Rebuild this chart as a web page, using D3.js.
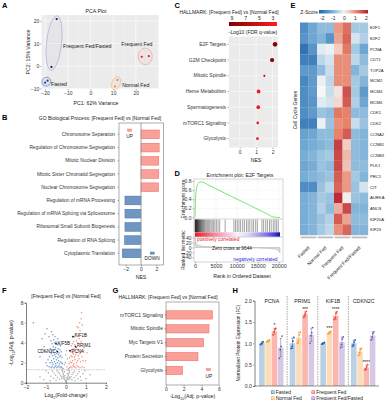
<!DOCTYPE html>
<html>
<head>
<meta charset="utf-8">
<script src="https://cdn.jsdelivr.net/npm/d3@7"></script>
<style>
body { margin: 0; background: #fff; }
svg { display: block; font-family: "Liberation Sans", Arial, sans-serif; }
</style>
</head>
<body>
<svg id="fig" width="386" height="400"></svg>
<script>
// ---------- A: PCA ----------
const pcaGroup = ["Fasted", "Fasted", "Normal Fed", "Normal Fed", "Frequent Fed", "Frequent Fed", "Frequent Fed/Fasted", "Frequent Fed/Fasted"];
const pcaPC1 = [-20.0, -18.9, 11.9, 10.8, 22.6, 25.7, -14.9, -17.2];
const pcaPC2 = [-7.4, -6.5, -6.2, -9.1, 4.1, 4.4, 20.8, -0.4];

// ---------- B: GO ----------
const goTerms = ["Chromosome Separation", "Regulation of Chromosome Segregation", "Mitotic Nuclear Division",
  "Mitotic Sister Chromatid Segregation", "Nuclear Chromosome Segregation", "Regulation of mRNA Processing",
  "Regulation of mRNA Splicing via Spliceosome", "Ribosomal Small Subunit Biogenesis", "Regulation of RNA Splicing",
  "Cytoplasmic Translation"];
const goNES = [2.4, 2.38, 2.33, 2.33, 2.3, -2.1, -2.1, -2.1, -2.15, -2.45];

// ---------- C: Hallmark dot plot ----------
const hallSets = ["E2F Targets", "G2M Checkpoint", "Mitotic Spindle", "Heme Metabolism", "Spermatogenesis", "mTORC1 Signaling", "Glycolysis"];
const hallNES = [2.15, 1.97, 1.5, 1.15, 1.13, 1.1, 1.08];
const hallFDR = [9.0, 8.7, 6.6, 3.4, 3.3, 3.2, 3.2];
const hallGenes = [62, 54, 14, 42, 40, 22, 24];
const fdrTicks = [9, 7, 5, 3];

// ---------- D: enrichment plot ----------
const esRank = [0, 100, 300, 600, 1000, 1600, 3000, 5000, 7000, 9000, 11000, 13000, 15000, 17000, 18800, 20300];
const esScore = [0, 0.35, 0.6, 0.72, 0.77, 0.78, 0.72, 0.63, 0.54, 0.45, 0.36, 0.27, 0.18, 0.09, 0.01, 0.0];
const hitRanks = [20, 60, 110, 150, 200, 240, 290, 350, 400, 460, 520, 580, 650, 720, 800, 880, 960, 1050, 1150, 1250,
  1350, 1480, 1600, 1750, 1900, 2050, 2250, 2450, 2700, 2950, 3200, 3500, 3800, 4100, 4400, 4750, 5100, 5500, 5900,
  7200, 9300, 9700, 10100, 10500, 10900, 11400, 11800, 12300, 12700, 13100, 13600, 14000, 14500, 14900, 16000, 16400,
  16900, 17300, 17800, 18200, 18700, 19100, 19500, 19900];
const metricRank = [0, 150, 500, 1000, 2000, 4000, 7000, 9644, 12000, 15000, 17500, 19000, 19700, 20100, 20300];
const metricValue = [40, 22, 12, 8, 5, 3, 1.2, 0, -1, -2.5, -4, -6, -10, -16, -22];

// ---------- E: heatmap ----------
const heatGenes = ["E2F1", "E2F2", "PCNA", "CDT1", "TOP2A", "MCM2", "MCM4", "MCM6", "CDK1", "CDK2", "CCNA2", "CCNB1",
  "CCNB3", "PLK1", "PRC1", "CIT", "AURKA", "ANLN", "KIF20A", "KIF23"];
const heatGroups = ["Fasted", "Normal Fed", "Frequent Fed", "Frequent Fed/Fasted"];
const heatZ = [
  [-1.6, -1.2, -0.9, -0.9, 0.9, 1.3, -0.7, -0.7],
  [-1.5, -1.2, -1.0, -1.5, 0.8, 1.4, -0.3, -0.6],
  [-2.0, -1.5, -0.2, -0.1, 0.4, 1.2, -0.7, -1.2],
  [-1.8, -1.8, -0.5, -0.3, 1.0, 1.0, -0.5, -0.9],
  [-1.4, -1.4, -0.9, -0.4, 1.0, 1.0, -1.0, -0.7],
  [-1.7, -1.4, -0.1, -0.5, 1.0, 1.0, -0.7, -1.0],
  [-1.6, -1.4, 0.0, -0.4, 0.2, 1.6, -0.7, -1.4],
  [-1.6, -1.5, -0.2, -0.3, 0.3, 1.5, -0.6, -1.2],
  [-1.6, -1.4, -0.8, -0.9, 1.2, 1.1, -0.9, -0.9],
  [-1.8, -1.8, -0.1, -0.8, 1.0, 1.1, -0.4, -0.8],
  [-1.3, -1.2, -0.9, -0.9, 1.1, 1.5, -0.9, -1.0],
  [-1.2, -1.1, -1.0, -0.9, 1.8, 0.4, -0.9, -1.0],
  [-1.1, -1.0, -0.8, -0.7, 1.7, 0.6, -0.9, -1.0],
  [-1.2, -1.1, -0.8, -0.9, 1.7, 0.5, -0.9, -0.9],
  [-1.1, -1.0, -0.9, -0.8, 1.5, 0.9, -0.7, -1.0],
  [-1.6, -1.6, -0.8, -0.5, 1.4, 0.9, -0.8, -0.3],
  [-1.1, -1.0, -0.7, -0.8, 2.0, 0.1, -0.8, -0.9],
  [-1.1, -1.0, -0.6, -0.9, 0.7, 1.7, -1.0, -1.0],
  [-1.1, -1.0, -0.8, -0.6, 1.5, 0.8, -0.9, -0.9],
  [-1.1, -1.0, -0.7, -0.5, 1.0, 1.4, -1.0, -1.0]
];
const zTicks = [-2, -1, 0, 1, 2];

// ---------- F: volcano (log2FC, -log10 adj p) ----------
const volcanoPoints = [
  [0, 0.05], [0.02, 0.15], [-0.03, 0.2], [0.05, 0.3], [-0.06, 0.35], [0.08, 0.45], [-0.09, 0.5], [0.1, 0.6], [-0.11, 0.65],
  [0.12, 0.75], [-0.13, 0.8], [0.14, 0.9], [-0.15, 0.95], [0.16, 1.05], [-0.17, 1.1], [0.18, 1.2], [-0.19, 1.25],
  [0.2, 0.4], [-0.22, 0.45], [0.25, 0.6], [-0.27, 0.7], [0.3, 0.85], [-0.32, 0.9], [0.36, 1.0], [-0.38, 1.05], [0.42, 1.15],
  [-0.45, 1.2], [0.3, 0.3], [-0.33, 0.35], [0.4, 0.5], [-0.42, 0.55], [0.5, 0.7], [-0.52, 0.75], [0.58, 0.9], [-0.6, 0.95],
  [0.66, 1.1], [-0.68, 1.15], [0.45, 0.2], [-0.5, 0.25], [0.6, 0.4], [-0.62, 0.45], [0.72, 0.6], [-0.75, 0.65], [0.85, 0.9],
  [-0.88, 1.0], [0.95, 1.2], [-1.0, 1.2], [0.05, 1.6], [-0.04, 2.0], [0.07, 2.4], [-0.08, 1.8], [-0.02, 2.8], [0.03, 3.2],
  [-1.3, 0.6], [1.2, 0.8], [-1.1, 0.3], [1.0, 0.4], [-0.8, 0.2], [0.75, 0.25], [0.01, 0.1], [-0.01, 0.25], [0.04, 0.5],
  [-0.05, 0.7], [0.06, 0.9], [-0.07, 1.1], [0.09, 1.25], [0.12, 0.35], [-0.14, 0.4], [0.18, 0.55], [-0.2, 0.6],
  [-0.15, 1.4], [-0.2, 1.5], [-0.25, 1.6], [-0.3, 1.5], [-0.35, 1.7], [-0.4, 1.6], [-0.45, 1.5], [-0.5, 1.7], [-0.55, 1.6],
  [-0.6, 1.5], [-0.65, 1.8], [-0.7, 1.6], [-0.75, 1.5], [-0.85, 1.6], [-0.95, 1.7], [-0.18, 1.9], [-0.22, 2.0], [-0.28, 2.1],
  [-0.33, 1.9], [-0.38, 2.2], [-0.43, 2.0], [-0.48, 2.3], [-0.52, 1.9], [-0.58, 2.1], [-0.62, 2.4], [-0.68, 2.0], [-0.72, 2.2],
  [-0.8, 2.0], [-0.9, 2.3], [-0.2, 2.5], [-0.26, 2.7], [-0.31, 2.6], [-0.36, 2.8], [-0.41, 2.5], [-0.46, 2.9], [-0.51, 2.6],
  [-0.56, 2.8], [-0.61, 3.0], [-0.66, 2.7], [-0.74, 2.9], [-0.82, 2.6], [-0.24, 3.1], [-0.3, 3.3], [-0.35, 3.0], [-0.39, 3.4],
  [-0.47, 3.2], [-0.53, 3.5], [-0.59, 3.3], [-0.64, 3.6], [-0.7, 3.2], [-0.78, 3.4], [-0.28, 3.7], [-0.34, 3.9], [-0.44, 3.8],
  [-0.5, 4.1], [-0.57, 4.0], [-0.62, 4.3], [-0.69, 3.9], [-0.76, 4.2], [-0.4, 4.4], [-0.55, 4.6], [-0.65, 4.8], [-0.72, 5.1],
  [-0.85, 4.6], [-0.95, 5.4], [-1.05, 4.9], [-1.2, 4.4], [-1.63, 6.0], [-1.1, 3.6], [-0.98, 3.1], [-1.3, 2.6], [-1.0, 2.0],
  [0.12, 1.4], [0.18, 1.5], [0.24, 1.6], [0.3, 1.5], [0.36, 1.7], [0.42, 1.6], [0.48, 1.5], [0.55, 1.7], [0.62, 1.6],
  [0.7, 1.5], [0.8, 1.6], [0.9, 1.5], [0.15, 1.9], [0.21, 2.1], [0.27, 2.0], [0.33, 2.2], [0.39, 1.9], [0.45, 2.3],
  [0.52, 2.0], [0.58, 2.2], [0.65, 2.4], [0.72, 2.1], [0.85, 2.2], [0.18, 2.5], [0.24, 2.7], [0.3, 2.6], [0.36, 2.9],
  [0.42, 2.6], [0.48, 2.8], [0.55, 3.0], [0.62, 2.7], [0.7, 2.9], [0.8, 2.6], [0.22, 3.1], [0.28, 3.3], [0.34, 3.0],
  [0.4, 3.4], [0.46, 3.2], [0.53, 3.5], [0.6, 3.3], [0.68, 3.6], [0.78, 3.2], [0.26, 3.7], [0.32, 3.9], [0.38, 4.1],
  [0.44, 3.8], [0.52, 4.2], [0.58, 4.0], [0.66, 4.4], [0.75, 4.1], [0.42, 4.6], [0.5, 4.9], [0.6, 4.7], [0.7, 5.2],
  [0.62, 5.5], [0.68, 6.0], [0.75, 6.4], [0.82, 5.8], [0.78, 7.0], [0.55, 5.6], [0.95, 4.8], [0.9, 3.5], [1.05, 3.0], [0.98, 2.2]
];
const volcanoGenes = ["KIF1B", "PRIM1", "PCNA", "KIF5B", "CDKN2C"];
const volcanoGeneFC = [0.35, 0.48, 0.2, -0.5, -0.43];
const volcanoGeneP = [4.6, 3.6, 3.2, 3.9, 3.1];

// ---------- G: Hallmark bars ----------
const gTerms = ["mTORC1 Signaling", "Mitotic Spindle", "Myc Targets V1", "Protein Secretion", "Glycolysis"];
const gValues = [5.28, 4.87, 4.27, 3.62, 1.89];

// ---------- H: protein expression ----------
const proteins = ["PCNA", "PRIM1", "KIF1B", "CDKN2C"];
const conditions = ["Fasted", "Normal Fed", "Frequent Fed", "Frequent Fed/Fasted"];
const replicates = {
  PCNA: [[0.97, 1.0, 1.01, 1.04], [1.03, 1.05, 1.06, 1.08], [1.2, 1.27, 1.32, 1.35], [0.65, 0.85, 0.93, 1.17]],
  PRIM1: [[0.88, 0.93, 1.05, 1.14], [1.0, 1.06, 1.2, 1.26], [1.61, 1.66, 1.7, 1.75], [1.0, 1.18, 1.25, 1.37]],
  KIF1B: [[0.98, 1.0, 1.0, 1.02], [1.22, 1.24, 1.26, 1.28], [1.56, 1.6, 1.7, 1.74], [0.9, 0.97, 1.1, 1.15]],
  CDKN2C: [[0.93, 0.97, 1.03, 1.08], [0.72, 0.78, 0.85, 0.88], [0.38, 0.4, 0.45, 0.5], [1.08, 1.15, 1.23, 1.27]]
};
const sigStars = {
  PCNA: ["", "", "*", ""], PRIM1: ["", "", "***", ""], KIF1B: ["", "***", "****", ""], CDKN2C: ["", "", "****", ""]
};

// ====================================================================
const svg = d3.select("#fig");
const intFmt = d3.format("d");

function txt(g, x, y, t, size, anchor) {
  return g.append("text").attr("x", x).attr("y", y).attr("font-size", size)
    .attr("text-anchor", anchor || "start").attr("fill", "#222").text(t);
}
function styleAxis(g, fs, keepDomain) {
  g.attr("font-size", fs).attr("font-family", null);
  g.selectAll(".tick line").attr("stroke", "#444").attr("stroke-width", 0.4);
  g.selectAll(".tick text").attr("fill", "#333");
  if (keepDomain) g.select(".domain").attr("stroke-width", 0.5);
  else g.select(".domain").remove();
}
function letter(x, y, t) {
  svg.append("text").attr("x", x).attr("y", y).attr("font-size", 7.5)
    .attr("font-weight", "bold").text(t);
}

// ---------------- Panel A ----------------
letter(2, 7.5, "A");
const pa = svg.append("g");
const xA = d3.scaleLinear().domain([-21.5, 30]).range([41.7, 158.5]);
const yA = d3.scaleLinear().domain([-10.2, 22.6]).range([89, 15]);
pa.append("rect").attr("x", 41.7).attr("y", 15).attr("width", 116.8).attr("height", 74).attr("fill", "#ebebeb");
[-15, -5, 5, 15, 25].forEach(v => pa.append("line").attr("x1", xA(v)).attr("x2", xA(v)).attr("y1", 15).attr("y2", 89)
  .attr("stroke", "#f5f5f5").attr("stroke-width", 0.3));
[-5, 5, 15].forEach(v => pa.append("line").attr("y1", yA(v)).attr("y2", yA(v)).attr("x1", 41.7).attr("x2", 158.5)
  .attr("stroke", "#f5f5f5").attr("stroke-width", 0.3));
[-20, -10, 0, 10, 20].forEach(v => pa.append("line").attr("x1", xA(v)).attr("x2", xA(v)).attr("y1", 15).attr("y2", 89)
  .attr("stroke", "#fff").attr("stroke-width", 0.6));
[-10, 0, 10, 20].forEach(v => pa.append("line").attr("y1", yA(v)).attr("y2", yA(v)).attr("x1", 41.7).attr("x2", 158.5)
  .attr("stroke", "#fff").attr("stroke-width", 0.6));
pa.append("g").attr("transform", "translate(0,89)")
  .call(d3.axisBottom(xA).tickValues([-20, -10, 0, 10, 20]).tickFormat(intFmt).tickSize(1.5).tickPadding(1)).call(g => styleAxis(g, 5));
pa.append("g").attr("transform", "translate(41.7,0)")
  .call(d3.axisLeft(yA).tickValues([-10, 0, 10, 20]).tickFormat(intFmt).tickSize(1.5).tickPadding(1)).call(g => styleAxis(g, 5));
txt(pa, 96, 13, "PCA Plot", 5.2, "middle");
txt(pa, 96, 105, "PC1: 62% Variance", 5.2, "middle");
pa.append("text").attr("transform", "translate(30,52) rotate(-90)").attr("font-size", 5.2)
  .attr("text-anchor", "middle").attr("fill", "#222").text("PC2: 15% Variance");

const pcaColor = { "Fasted": "#1f4e99", "Normal Fed": "#f58220", "Frequent Fed": "#e3191c", "Frequent Fed/Fasted": "#1c1c6b" };
const pcaRing = { "Fasted": "#4b7cc2", "Normal Fed": "#f2b277", "Frequent Fed": "#ee9b9b", "Frequent Fed/Fasted": "#a3a3cf" };
const pcaEllipse = { "Fasted": [3, 4.3], "Normal Fed": [3.1, 4.2], "Frequent Fed": [3.5, 8.3], "Frequent Fed/Fasted": [3.3, 7.5] };
const pcaLabel = { "Fasted": [4.7, 2.3, "start"], "Normal Fed": [6, 2.4, "start"], "Frequent Fed": [-8.3, -12.3, "middle"], "Frequent Fed/Fasted": [9, 3, "start"] };
const pcaData = pcaGroup.map((g, i) => ({ g, x: xA(pcaPC1[i]), y: yA(pcaPC2[i]) }));
d3.groups(pcaData, d => d.g).forEach(([g, pts]) => {
  const [a, b] = pts;
  const cx = (a.x + b.x) / 2, cy = (a.y + b.y) / 2;
  const half = Math.hypot(b.x - a.x, b.y - a.y) / 2;
  const ang = Math.atan2(b.y - a.y, b.x - a.x) * 180 / Math.PI;
  pa.append("ellipse").attr("transform", `translate(${cx},${cy}) rotate(${ang})`)
    .attr("rx", half + pcaEllipse[g][0]).attr("ry", pcaEllipse[g][1])
    .attr("fill", pcaRing[g]).attr("fill-opacity", 0.08).attr("stroke", pcaRing[g]).attr("stroke-width", 0.6);
  const lo = pcaLabel[g];
  txt(pa, cx + lo[0], cy + lo[1], g, 5.2, lo[2]).attr("dy", "0.35em");
});
pa.selectAll(".pt").data(pcaData).enter().append("circle")
  .attr("cx", d => d.x).attr("cy", d => d.y).attr("r", 1.1).attr("fill", d => pcaColor[d.g]);

// ---------------- Panel B ----------------
letter(2, 120, "B");
const pb = svg.append("g");
const xB = d3.scaleLinear().domain([-2.88, 2.92]).range([119, 163.3]);
const yB = d3.scaleBand().domain(goTerms).range([125.5, 262.2]).padding(0.34);
txt(pb, 100, 120, "GO Biological Process: [Frequent Fed] vs [Normal Fed]", 5, "middle");
pb.selectAll(".bar").data(goTerms).enter().append("rect")
  .attr("x", (d, i) => xB(Math.min(0, goNES[i])))
  .attr("y", d => yB(d))
  .attr("width", (d, i) => Math.abs(xB(goNES[i]) - xB(0)))
  .attr("height", yB.bandwidth())
  .attr("fill", (d, i) => goNES[i] > 0 ? "#f9a099" : "#7097c4")
  .attr("stroke", (d, i) => goNES[i] > 0 ? "#f0675f" : "#3e6ca5").attr("stroke-width", 0.5);
pb.append("line").attr("x1", xB(0)).attr("x2", xB(0)).attr("y1", 123).attr("y2", 265)
  .attr("stroke", "#9a9a9a").attr("stroke-width", 0.9);
pb.append("rect").attr("x", 119).attr("y", 123).attr("width", 44.3).attr("height", 142)
  .attr("fill", "none").attr("stroke", "#777").attr("stroke-width", 0.6);
pb.append("g").attr("transform", "translate(0,265)")
  .call(d3.axisBottom(xB).tickValues([-2, 0, 2]).tickFormat(intFmt).tickSize(1.5).tickPadding(1)).call(g => styleAxis(g, 5));
pb.append("g").attr("transform", "translate(119,0)")
  .call(d3.axisLeft(yB).tickSize(1.5).tickPadding(2.5)).call(g => styleAxis(g, 4.8));
txt(pb, 141, 279, "NES", 5.2, "middle");
pb.append("rect").attr("x", 127.7).attr("y", 129).attr("width", 4).attr("height", 2.2).attr("fill", "#f9a099").attr("stroke", "#f0675f").attr("stroke-width", 0.4);
txt(pb, 129.7, 137.5, "UP", 4.8, "middle");
pb.append("rect").attr("x", 150.2).attr("y", 252).attr("width", 4).attr("height", 2.2).attr("fill", "#7097c4").attr("stroke", "#3e6ca5").attr("stroke-width", 0.4);
txt(pb, 152.2, 260.2, "DOWN", 4.8, "middle");

// ---------------- Panel C ----------------
letter(174.5, 7.5, "C");
const pc = svg.append("g");
txt(pc, 229, 13.5, "HALLMARK: [Frequent Fed] vs [Normal Fed]", 5, "middle");
const xC = d3.scaleLinear().domain([-0.65, 2.33]).range([229, 278]);
const yC = d3.scaleBand().domain(hallSets).range([36.5, 146.5]);
const fdrLeg = d3.scaleLinear().domain([9.44, 2.41]).range([229, 277]);
const fdrColor = d3.scaleLinear().domain([9.44, 2.41]).range(["#800000", "#ff1f1f"]);
const rC = d3.scaleSqrt().domain([0, 62]).range([0, 2.3]);
const defs = svg.append("defs");
const gFdr = defs.append("linearGradient").attr("id", "gFdr");
gFdr.append("stop").attr("offset", "0%").attr("stop-color", fdrColor(9.44));
gFdr.append("stop").attr("offset", "100%").attr("stop-color", fdrColor(2.41));
pc.append("rect").attr("x", 229).attr("y", 22).attr("width", 48).attr("height", 4).attr("fill", "url(#gFdr)");
fdrTicks.forEach(v => txt(pc, fdrLeg(v), 19.8, v, 5, "middle"));
txt(pc, 253, 33.5, "-Log10 (FDR q-value)", 5, "middle");
pc.append("rect").attr("x", 229).attr("y", 36.5).attr("width", 49).attr("height", 111).attr("fill", "#ebebeb");
[0, 1, 2].forEach(v => pc.append("line").attr("x1", xC(v)).attr("x2", xC(v)).attr("y1", 36.5).attr("y2", 147.5)
  .attr("stroke", "#fff").attr("stroke-width", 0.5));
hallSets.forEach(s => pc.append("line").attr("x1", 229).attr("x2", 278).attr("y1", yC(s) + yC.bandwidth() / 2)
  .attr("y2", yC(s) + yC.bandwidth() / 2).attr("stroke", "#fff").attr("stroke-width", 0.5));
pc.append("g").attr("transform", "translate(0,147.5)")
  .call(d3.axisBottom(xC).tickValues([0, 1, 2]).tickFormat(intFmt).tickSize(1.5).tickPadding(1)).call(g => styleAxis(g, 5));
pc.append("g").attr("transform", "translate(229,0)")
  .call(d3.axisLeft(yC).tickSize(1.5).tickPadding(1.5)).call(g => styleAxis(g, 5));
pc.selectAll(".dot").data(hallSets).enter().append("circle")
  .attr("cx", (d, i) => xC(hallNES[i])).attr("cy", d => yC(d) + yC.bandwidth() / 2)
  .attr("r", (d, i) => rC(hallGenes[i])).attr("fill", (d, i) => fdrColor(hallFDR[i]));
txt(pc, 256, 162, "NES", 5.2, "middle");

// ---------------- Panel D ----------------
letter(174.5, 175.5, "D");
const pd = svg.append("g");
txt(pd, 240, 177, "Enrichment plot: E2F Targets", 5.2, "middle");
const xD = d3.scaleLinear().domain([-240, 21030]).range([194, 283]);
const yES = d3.scaleLinear().domain([-0.033, 0.844]).range([219, 179]);
const yM = d3.scaleLinear().domain([-40, 40]).range([257.3, 237.7]);
[0.2, 0.4, 0.6, 0.8].forEach(v => pd.append("line").attr("x1", 194).attr("x2", 283).attr("y1", yES(v)).attr("y2", yES(v))
  .attr("stroke", "#eee").attr("stroke-width", 0.4));
[5000, 10000, 15000, 20000].forEach(v => pd.append("line").attr("x1", xD(v)).attr("x2", xD(v)).attr("y1", 179).attr("y2", 219)
  .attr("stroke", "#eee").attr("stroke-width", 0.4));
pd.append("path").datum(d3.zip(esRank, esScore))
  .attr("d", d3.line().x(d => xD(d[0])).y(d => yES(d[1])).curve(d3.curveMonotoneX))
  .attr("fill", "none").attr("stroke", "#4fe04f").attr("stroke-width", 0.8);
pd.selectAll(".hit").data(hitRanks).enter().append("line")
  .attr("x1", d => xD(d)).attr("x2", d => xD(d)).attr("y1", 219.5).attr("y2", 232)
  .attr("stroke", "#1a1a1a").attr("stroke-width", 0.4);
const gRank = defs.append("linearGradient").attr("id", "gRank");
[["0%", "#e8182a"], ["10%", "#ef4a5a"], ["25%", "#f590a8"], ["40%", "#f6c8e6"], ["50%", "#faf0fa"],
 ["60%", "#e6def6"], ["72%", "#b8aef0"], ["85%", "#7a72e6"], ["95%", "#3a32d0"], ["100%", "#0c0ca0"]]
  .forEach(s => gRank.append("stop").attr("offset", s[0]).attr("stop-color", s[1]));
pd.append("rect").attr("x", xD(0)).attr("y", 232.3).attr("width", xD(20300) - xD(0)).attr("height", 4.5).attr("fill", "url(#gRank)");
pd.append("path").datum(d3.zip(metricRank, metricValue))
  .attr("d", d3.area().x(d => xD(d[0])).y0(yM(0)).y1(d => yM(d[1])).curve(d3.curveMonotoneX))
  .attr("fill", "#dcdcdc").attr("stroke", "#9a9a9a").attr("stroke-width", 0.4);
pd.append("rect").attr("x", 194).attr("y", 179).attr("width", 89).attr("height", 83)
  .attr("fill", "none").attr("stroke", "#aaa").attr("stroke-width", 0.5);
pd.append("line").attr("x1", 194).attr("x2", 283).attr("y1", 219).attr("y2", 219).attr("stroke", "#aaa").attr("stroke-width", 0.5);
pd.append("line").attr("x1", 194).attr("x2", 283).attr("y1", 237).attr("y2", 237).attr("stroke", "#aaa").attr("stroke-width", 0.5);
pd.append("g").attr("transform", "translate(194,0)")
  .call(d3.axisLeft(yES).tickValues([0, 0.2, 0.4, 0.6, 0.8]).tickFormat(d3.format(".1f")).tickSize(1.5).tickPadding(1))
  .call(g => styleAxis(g, 5));
pd.append("g").attr("transform", "translate(194,0)")
  .call(d3.axisLeft(yM).tickValues([40, 20, 0, -20, -40]).tickFormat(intFmt).tickSize(1.5).tickPadding(1)).call(g => styleAxis(g, 5));
pd.append("g").attr("transform", "translate(0,262)")
  .call(d3.axisBottom(xD).tickValues([0, 5000, 10000, 15000, 20000]).tickFormat(intFmt).tickSize(1.5).tickPadding(1))
  .call(g => styleAxis(g, 5.4));
txt(pd, 197, 241, "positively correlated", 4.8).attr("fill", "#e8182a");
txt(pd, 232, 250, "Zero cross at 9644", 4.8, "middle");
txt(pd, 277.5, 260.5, "negatively correlated", 4.8, "end").attr("fill", "#2a2ad8");
txt(pd, 242, 278, "Rank in Ordered Dataset", 5.2, "middle");
pd.append("text").attr("transform", "translate(184.5,199) rotate(-90)").attr("font-size", 5)
  .attr("text-anchor", "middle").attr("fill", "#222").text("Enrichment score");
pd.append("text").attr("transform", "translate(184.5,250) rotate(-90)").attr("font-size", 5)
  .attr("text-anchor", "middle").attr("fill", "#222").text("Ranked list metric");

// ---------------- Panel E ----------------
letter(290.5, 7.5, "E");
const pe = svg.append("g");
const xE = d3.scaleBand().domain(d3.range(8)).range([300, 368]);
const yE = d3.scaleBand().domain(heatGenes).range([22.5, 235]);
const zColor = d3.scaleLinear().domain([-2.2, -1.1, 0, 1.1, 2.2])
  .range(["#2166ac", "#78aed6", "#f7f7f7", "#e8836b", "#b2182b"]).clamp(true);
const zLeg = d3.scaleLinear().domain([-2.3, 2.15]).range([319, 368]);
const gZ = defs.append("linearGradient").attr("id", "gZ");
d3.range(0, 1.001, 0.1).forEach(t => gZ.append("stop").attr("offset", t)
  .attr("stop-color", zColor(-2.3 + t * 4.45)));
txt(pe, 318, 13.5, "Z-Score", 5, "end");
pe.append("rect").attr("x", 319).attr("y", 10).attr("width", 49).attr("height", 3.5).attr("fill", "url(#gZ)");
zTicks.forEach(v => txt(pe, zLeg(v), 20, v, 5, "middle"));
heatGenes.forEach((gene, r) => {
  heatZ[r].forEach((z, c) => {
    pe.append("rect").attr("x", xE(c)).attr("y", yE(gene))
      .attr("width", xE.bandwidth() + 0.2).attr("height", yE.bandwidth() + 0.2).attr("fill", zColor(z));
  });
  txt(pe, 370, yE(gene) + yE.bandwidth() / 2, gene, 4.2).attr("dy", "0.35em");
});
heatGroups.forEach((g, i) => {
  const x0 = xE(2 * i), x1 = xE(2 * i + 1) + xE.bandwidth();
  pe.append("rect").attr("x", x0 + 0.7).attr("y", 236.5).attr("width", x1 - x0 - 1.4).attr("height", 1.8).attr("fill", "#bdbdbd");
  pe.append("text").attr("transform", `translate(${(x0 + x1) / 2 + 1.5},${248}) rotate(-45)`)
    .attr("font-size", 4.8).attr("text-anchor", "end").attr("fill", "#222").text(g);
});
pe.append("text").attr("transform", "translate(296.5,110) rotate(-90)").attr("font-size", 5)
  .attr("text-anchor", "middle").attr("fill", "#222").text("Cell Cycle Genes");

// ---------------- Panel F ----------------
letter(2, 292.5, "F");
const pf = svg.append("g");
const xF = d3.scaleLinear().domain([-2, 2]).range([26, 106]);
const yF = d3.scaleLinear().domain([0, 8]).range([382.7, 302.7]);
txt(pf, 66, 298, "[Frequent Fed] vs [Normal Fed]", 5, "middle");
const vClass = d => d[1] > 1.3 && d[0] > 0.1 ? "up" : (d[1] > 1.3 && d[0] < -0.1 ? "down" : "ns");
const vColor = { ns: "#ababab", up: "#f5897e", down: "#6b9bcc" };
["ns", "down", "up"].forEach(k => {
  pf.selectAll(".v" + k).data(volcanoPoints.filter(d => vClass(d) === k)).enter().append("circle")
    .attr("cx", d => xF(d[0])).attr("cy", d => yF(d[1])).attr("r", 0.75).attr("fill", vColor[k]);
});
pf.append("line").attr("x1", 26).attr("x2", 106).attr("y1", yF(1.3)).attr("y2", yF(1.3))
  .attr("stroke", "#999").attr("stroke-width", 0.5).attr("stroke-dasharray", "1.5,1");
pf.append("g").attr("transform", "translate(0,382.7)")
  .call(d3.axisBottom(xF).ticks(4).tickFormat(intFmt).tickSize(1.5).tickPadding(1)).call(g => styleAxis(g, 5, true));
pf.append("g").attr("transform", "translate(26,0)")
  .call(d3.axisLeft(yF).tickValues([0, 2, 4, 6, 8]).tickFormat(intFmt).tickSize(1.5).tickPadding(1)).call(g => styleAxis(g, 5, true));
const vLabelDy = { KIF1B: -1.7, PRIM1: -1.7, PCNA: 0.4, KIF5B: 0, CDKN2C: 0 };
volcanoGenes.forEach((g, i) => {
  const px = xF(volcanoGeneFC[i]), py = yF(volcanoGeneP[i]);
  pf.append("circle").attr("cx", px).attr("cy", py).attr("r", 0.9).attr("fill", "#111");
  const left = g === "CDKN2C";
  txt(pf, left ? px - 1.5 : px + 1.5, py + vLabelDy[g], g, 4.5, left ? "end" : "start").attr("dy", "0.35em").attr("fill", "#111");
});
pf.append("text").attr("x", 66).attr("y", 397).attr("font-size", 5.2).attr("text-anchor", "middle").attr("fill", "#222")
  .html('Log<tspan font-size="3.6" baseline-shift="sub">2</tspan>(Fold-change)');
pf.append("text").attr("transform", "translate(13,343) rotate(-90)").attr("font-size", 5.2).attr("text-anchor", "middle").attr("fill", "#222")
  .html('-Log<tspan font-size="3.6" baseline-shift="sub">10</tspan>(Adj. p-value)');

// ---------------- Panel G ----------------
letter(112.5, 292.5, "G");
const pg = svg.append("g");
txt(pg, 168, 298.5, "HALLMARK: [Frequent Fed] vs [Normal Fed]", 5, "middle");
const xG = d3.scaleLinear().domain([0, 6]).range([166, 219]);
const yG = d3.scaleBand().domain(gTerms).range([305.2, 380.2]).padding(0.4);
pg.selectAll(".bar").data(gTerms).enter().append("rect")
  .attr("x", xG(0)).attr("y", d => yG(d))
  .attr("width", (d, i) => xG(gValues[i]) - xG(0)).attr("height", yG.bandwidth())
  .attr("fill", "#f9a099").attr("stroke", "#f0675f").attr("stroke-width", 0.5);
pg.append("rect").attr("x", 166).attr("y", 302).attr("width", 53).attr("height", 83)
  .attr("fill", "none").attr("stroke", "#777").attr("stroke-width", 0.6);
pg.append("g").attr("transform", "translate(0,385)")
  .call(d3.axisBottom(xG).tickValues([0, 2, 4, 6]).tickFormat(intFmt).tickSize(1.5).tickPadding(1)).call(g => styleAxis(g, 5));
pg.append("g").attr("transform", "translate(166,0)")
  .call(d3.axisLeft(yG).tickSize(1.5).tickPadding(1.5)).call(g => styleAxis(g, 5));
pg.append("rect").attr("x", 206.5).attr("y", 368.5).attr("width", 4).attr("height", 2.2).attr("fill", "#f9a099").attr("stroke", "#f0675f").attr("stroke-width", 0.4);
txt(pg, 208.8, 377.5, "UP", 4.8, "middle");
pg.append("text").attr("x", 192.5).attr("y", 397.5).attr("font-size", 5.2).attr("text-anchor", "middle").attr("fill", "#222")
  .html('-Log<tspan font-size="3.6" baseline-shift="sub">10</tspan>(Adj. p-value)');

// ---------------- Panel H ----------------
letter(232.5, 292.5, "H");
const ph = svg.append("g");
const yH = d3.scaleLinear().domain([0, 2]).range([386, 300.7]);
const xH = d3.scaleBand().domain(proteins).range([256.5, 379]);
const xHi = d3.scaleBand().domain(conditions).range([2.6, 27]).paddingInner(0.1);
const barFill = ["#b3cbe2", "#fdd9b0", "#f9aea6", "#d0c3e3"];
const dotFill = ["#2760a8", "#f59a2e", "#e8453c", "#7b58a8"];
proteins.forEach((p, pi) => {
  const gx = xH(p);
  if (pi > 0) ph.append("line").attr("x1", gx).attr("x2", gx).attr("y1", 296).attr("y2", 386)
    .attr("stroke", "#555").attr("stroke-width", 0.5).attr("stroke-dasharray", "1.5,1");
  txt(ph, gx + xH.bandwidth() / 2, 303, p, 5.3, "middle");
  conditions.forEach((c, ci) => {
    const vals = replicates[p][ci];
    const m = d3.mean(vals), sd = d3.deviation(vals);
    const bx = gx + xHi(c), bw = xHi.bandwidth(), cx = bx + bw / 2;
    ph.append("rect").attr("x", bx).attr("y", yH(m)).attr("width", bw).attr("height", yH(0) - yH(m))
      .attr("fill", barFill[ci]).attr("fill-opacity", 0.9);
    ph.append("line").attr("x1", cx).attr("x2", cx).attr("y1", yH(m - sd)).attr("y2", yH(m + sd))
      .attr("stroke", dotFill[ci]).attr("stroke-width", 0.5);
    [m - sd, m + sd].forEach(v => ph.append("line").attr("x1", cx - 1.2).attr("x2", cx + 1.2)
      .attr("y1", yH(v)).attr("y2", yH(v)).attr("stroke", dotFill[ci]).attr("stroke-width", 0.5));
    vals.forEach((v, k) => ph.append("circle").attr("cx", cx + (k - 1.5) * 0.9).attr("cy", yH(v))
      .attr("r", 0.9).attr("fill", dotFill[ci]));
    const s = sigStars[p][ci];
    if (s) txt(ph, cx, yH(m + sd) - 1.2, s, 5, "middle").attr("fill", "#111");
  });
});
ph.append("g").attr("transform", "translate(254.5,0)")
  .call(d3.axisLeft(yH).tickValues([0, 0.5, 1, 1.5, 2]).tickFormat(d3.format(".1f")).tickSize(1.5).tickPadding(1))
  .call(g => styleAxis(g, 5.2, true));
ph.append("line").attr("x1", 254.5).attr("x2", 379).attr("y1", 386).attr("y2", 386).attr("stroke", "#222").attr("stroke-width", 0.5);
ph.append("text").attr("transform", "translate(240,343) rotate(-90)").attr("font-size", 4.8)
  .attr("text-anchor", "middle").attr("fill", "#222").text("Normalized Protein Expression (FC)");
const legPos = [[272.7, 392.3], [272.7, 398.3], [313.3, 392.3], [313.3, 398.3]];
conditions.forEach((c, ci) => {
  const [lx, ly] = legPos[ci];
  ph.append("rect").attr("x", lx - 1.5).attr("y", ly - 1.5).attr("width", 3).attr("height", 3)
    .attr("fill", barFill[ci]).attr("stroke", dotFill[ci]).attr("stroke-width", 0.4);
  txt(ph, lx + 3, ly, c, 5).attr("dy", "0.35em");
});
</script>
</body>
</html>
